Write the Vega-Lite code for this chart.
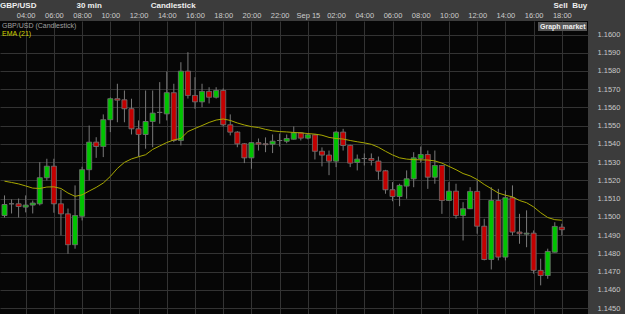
{
  "$schema": "https://vega.github.io/schema/vega-lite/v6.json",
  "width": 588,
  "height": 293,
  "autosize": {"type": "none"},
  "padding": {"left": 0, "top": 21, "right": 37, "bottom": 0},
  "background": "#3c3c3c",
  "title": {
    "text": "\u00a0GBP/USD\u00a0\u00a0\u00a0\u00a0\u00a0\u00a0\u00a0\u00a0\u00a0\u00a0\u00a0\u00a0\u00a0\u00a0\u00a0\u00a0\u00a0\u00a030 min\u00a0\u00a0\u00a0\u00a0\u00a0\u00a0\u00a0\u00a0\u00a0\u00a0\u00a0\u00a0\u00a0\u00a0\u00a0\u00a0\u00a0\u00a0\u00a0\u00a0\u00a0\u00a0Candlestick\u00a0\u00a0\u00a0\u00a0\u00a0\u00a0\u00a0\u00a0\u00a0\u00a0\u00a0\u00a0\u00a0\u00a0\u00a0\u00a0\u00a0\u00a0\u00a0\u00a0\u00a0\u00a0\u00a0\u00a0\u00a0\u00a0\u00a0\u00a0\u00a0\u00a0\u00a0\u00a0\u00a0\u00a0\u00a0\u00a0\u00a0\u00a0\u00a0\u00a0\u00a0\u00a0\u00a0\u00a0\u00a0\u00a0\u00a0\u00a0\u00a0\u00a0\u00a0\u00a0\u00a0\u00a0\u00a0\u00a0\u00a0\u00a0\u00a0\u00a0\u00a0\u00a0\u00a0\u00a0\u00a0\u00a0\u00a0\u00a0\u00a0\u00a0\u00a0\u00a0\u00a0\u00a0\u00a0\u00a0\u00a0\u00a0\u00a0\u00a0\u00a0\u00a0\u00a0\u00a0\u00a0\u00a0\u00a0\u00a0\u00a0\u00a0\u00a0\u00a0\u00a0\u00a0\u00a0\u00a0\u00a0\u00a0\u00a0\u00a0\u00a0\u00a0\u00a0\u00a0\u00a0\u00a0\u00a0\u00a0\u00a0\u00a0\u00a0\u00a0\u00a0\u00a0\u00a0\u00a0\u00a0\u00a0\u00a0\u00a0\u00a0\u00a0\u00a0\u00a0\u00a0\u00a0\u00a0\u00a0\u00a0\u00a0\u00a0\u00a0\u00a0\u00a0\u00a0\u00a0\u00a0\u00a0\u00a0\u00a0\u00a0\u00a0\u00a0\u00a0\u00a0\u00a0\u00a0\u00a0\u00a0\u00a0\u00a0\u00a0\u00a0\u00a0\u00a0\u00a0\u00a0\u00a0\u00a0\u00a0\u00a0Sell\u00a0\u00a0Buy",
    "anchor": "start",
    "font": "Liberation Sans",
    "fontSize": 8,
    "fontWeight": "bold",
    "color": "#eeeeee",
    "offset": 1
  },
  "config": {
    "view": {"fill": "#060606", "stroke": null},
    "axisY": {
      "ticks": false, "domain": false, "grid": true, "gridColor": "#333333",
      "tickCount": 16, "format": ".4f",
      "labelFont": "Liberation Sans", "labelFontSize": 7.5, "labelColor": "#c8c8c8",
      "labelPadding": 9, "labelOverlap": false
    }
  },
  "data": {
    "values": [
      {"t": "2022-09-14T02:30", "o": 1.15008, "h": 1.15118, "l": 1.14997, "c": 1.15068, "e": 1.15196},
      {"t": "2022-09-14T03:00", "o": 1.15072, "h": 1.15096, "l": 1.15019, "c": 1.15072, "e": 1.15189},
      {"t": "2022-09-14T03:30", "o": 1.15072, "h": 1.15101, "l": 1.14997, "c": 1.15057, "e": 1.15181},
      {"t": "2022-09-14T04:00", "o": 1.15054, "h": 1.15118, "l": 1.15025, "c": 1.15065, "e": 1.1517},
      {"t": "2022-09-14T04:30", "o": 1.15065, "h": 1.1509, "l": 1.15019, "c": 1.15076, "e": 1.15158},
      {"t": "2022-09-14T05:00", "o": 1.15072, "h": 1.153, "l": 1.15063, "c": 1.15215, "e": 1.15156},
      {"t": "2022-09-14T05:30", "o": 1.15215, "h": 1.15319, "l": 1.152, "c": 1.15278, "e": 1.15164},
      {"t": "2022-09-14T06:00", "o": 1.15278, "h": 1.15319, "l": 1.15023, "c": 1.15072, "e": 1.15165},
      {"t": "2022-09-14T06:30", "o": 1.15072, "h": 1.15149, "l": 1.14899, "c": 1.15017, "e": 1.15156},
      {"t": "2022-09-14T07:00", "o": 1.15017, "h": 1.15046, "l": 1.14798, "c": 1.14848, "e": 1.15131},
      {"t": "2022-09-14T07:30", "o": 1.14848, "h": 1.15173, "l": 1.14826, "c": 1.15008, "e": 1.15113},
      {"t": "2022-09-14T08:00", "o": 1.15004, "h": 1.15275, "l": 1.14981, "c": 1.15259, "e": 1.15121},
      {"t": "2022-09-14T08:30", "o": 1.15259, "h": 1.15501, "l": 1.152, "c": 1.1541, "e": 1.15142},
      {"t": "2022-09-14T09:00", "o": 1.1541, "h": 1.15437, "l": 1.15324, "c": 1.15386, "e": 1.15162},
      {"t": "2022-09-14T09:30", "o": 1.15386, "h": 1.15562, "l": 1.15328, "c": 1.15533, "e": 1.15186},
      {"t": "2022-09-14T10:00", "o": 1.15533, "h": 1.15655, "l": 1.15465, "c": 1.15648, "e": 1.15222},
      {"t": "2022-09-14T10:30", "o": 1.15648, "h": 1.1573, "l": 1.15519, "c": 1.1564, "e": 1.15266},
      {"t": "2022-09-14T11:00", "o": 1.15642, "h": 1.15693, "l": 1.15519, "c": 1.15593, "e": 1.15299},
      {"t": "2022-09-14T11:30", "o": 1.15593, "h": 1.15648, "l": 1.15452, "c": 1.15483, "e": 1.15318},
      {"t": "2022-09-14T12:00", "o": 1.15483, "h": 1.15529, "l": 1.15331, "c": 1.15452, "e": 1.1533},
      {"t": "2022-09-14T12:30", "o": 1.15452, "h": 1.15693, "l": 1.15374, "c": 1.15523, "e": 1.15341},
      {"t": "2022-09-14T13:00", "o": 1.15523, "h": 1.15693, "l": 1.15382, "c": 1.15569, "e": 1.1537},
      {"t": "2022-09-14T13:30", "o": 1.15573, "h": 1.15739, "l": 1.15511, "c": 1.15573, "e": 1.15389},
      {"t": "2022-09-14T14:00", "o": 1.15565, "h": 1.15797, "l": 1.15529, "c": 1.15681, "e": 1.15408},
      {"t": "2022-09-14T14:30", "o": 1.15681, "h": 1.1573, "l": 1.1541, "c": 1.15419, "e": 1.15422},
      {"t": "2022-09-14T15:00", "o": 1.15419, "h": 1.15848, "l": 1.15392, "c": 1.15799, "e": 1.1543},
      {"t": "2022-09-14T15:30", "o": 1.15799, "h": 1.15903, "l": 1.15649, "c": 1.15666, "e": 1.15468},
      {"t": "2022-09-14T16:00", "o": 1.15666, "h": 1.15766, "l": 1.15593, "c": 1.15631, "e": 1.15485},
      {"t": "2022-09-14T16:30", "o": 1.15631, "h": 1.1573, "l": 1.15602, "c": 1.15688, "e": 1.15501},
      {"t": "2022-09-14T17:00", "o": 1.15688, "h": 1.15711, "l": 1.15622, "c": 1.15656, "e": 1.15518},
      {"t": "2022-09-14T17:30", "o": 1.15656, "h": 1.15711, "l": 1.15649, "c": 1.15693, "e": 1.15531},
      {"t": "2022-09-14T18:00", "o": 1.15693, "h": 1.15704, "l": 1.15496, "c": 1.15505, "e": 1.15537},
      {"t": "2022-09-14T18:30", "o": 1.15505, "h": 1.15562, "l": 1.15447, "c": 1.15465, "e": 1.15529},
      {"t": "2022-09-14T19:00", "o": 1.15465, "h": 1.1547, "l": 1.15382, "c": 1.15401, "e": 1.15515},
      {"t": "2022-09-14T19:30", "o": 1.15401, "h": 1.15405, "l": 1.15295, "c": 1.15324, "e": 1.15504},
      {"t": "2022-09-14T20:00", "o": 1.15324, "h": 1.1541, "l": 1.15264, "c": 1.15407, "e": 1.15495},
      {"t": "2022-09-14T20:30", "o": 1.15407, "h": 1.1543, "l": 1.15364, "c": 1.15399, "e": 1.1549},
      {"t": "2022-09-14T21:00", "o": 1.15401, "h": 1.15436, "l": 1.15355, "c": 1.15396, "e": 1.1548},
      {"t": "2022-09-14T21:30", "o": 1.15399, "h": 1.15452, "l": 1.1535, "c": 1.15415, "e": 1.15472},
      {"t": "2022-09-14T22:00", "o": 1.15419, "h": 1.15457, "l": 1.15386, "c": 1.15419, "e": 1.15468},
      {"t": "2022-09-14T22:30", "o": 1.15415, "h": 1.15452, "l": 1.15404, "c": 1.1543, "e": 1.15466},
      {"t": "2022-09-14T23:00", "o": 1.15426, "h": 1.15496, "l": 1.15424, "c": 1.15461, "e": 1.15463},
      {"t": "2022-09-14T23:30", "o": 1.15461, "h": 1.15465, "l": 1.15419, "c": 1.15432, "e": 1.15461},
      {"t": "2022-09-15T00:00", "o": 1.15432, "h": 1.15457, "l": 1.15425, "c": 1.1545, "e": 1.15457},
      {"t": "2022-09-15T00:30", "o": 1.1545, "h": 1.15455, "l": 1.15315, "c": 1.1536, "e": 1.15454},
      {"t": "2022-09-15T01:00", "o": 1.1536, "h": 1.15381, "l": 1.15277, "c": 1.15339, "e": 1.15448},
      {"t": "2022-09-15T01:30", "o": 1.15339, "h": 1.15364, "l": 1.15229, "c": 1.15306, "e": 1.15436},
      {"t": "2022-09-15T02:00", "o": 1.15306, "h": 1.1547, "l": 1.15273, "c": 1.15465, "e": 1.1543},
      {"t": "2022-09-15T02:30", "o": 1.15465, "h": 1.15483, "l": 1.15364, "c": 1.15392, "e": 1.15427},
      {"t": "2022-09-15T03:00", "o": 1.15392, "h": 1.15396, "l": 1.15273, "c": 1.15295, "e": 1.15419},
      {"t": "2022-09-15T03:30", "o": 1.15299, "h": 1.15342, "l": 1.15255, "c": 1.15317, "e": 1.15412},
      {"t": "2022-09-15T04:00", "o": 1.1532, "h": 1.15348, "l": 1.15282, "c": 1.1532, "e": 1.15406},
      {"t": "2022-09-15T04:30", "o": 1.1532, "h": 1.15348, "l": 1.15282, "c": 1.1531, "e": 1.15398},
      {"t": "2022-09-15T05:00", "o": 1.15306, "h": 1.15331, "l": 1.15204, "c": 1.15251, "e": 1.15382},
      {"t": "2022-09-15T05:30", "o": 1.15253, "h": 1.15258, "l": 1.15127, "c": 1.15149, "e": 1.1536},
      {"t": "2022-09-15T06:00", "o": 1.15149, "h": 1.15191, "l": 1.15086, "c": 1.15112, "e": 1.1534},
      {"t": "2022-09-15T06:30", "o": 1.15112, "h": 1.15182, "l": 1.15059, "c": 1.15173, "e": 1.15324},
      {"t": "2022-09-15T07:00", "o": 1.15169, "h": 1.15255, "l": 1.151, "c": 1.15209, "e": 1.15317},
      {"t": "2022-09-15T07:30", "o": 1.15209, "h": 1.15355, "l": 1.15163, "c": 1.15324, "e": 1.15314},
      {"t": "2022-09-15T08:00", "o": 1.1532, "h": 1.15386, "l": 1.15299, "c": 1.15342, "e": 1.15313},
      {"t": "2022-09-15T08:30", "o": 1.15342, "h": 1.15364, "l": 1.15154, "c": 1.15218, "e": 1.15312},
      {"t": "2022-09-15T09:00", "o": 1.15218, "h": 1.15364, "l": 1.15182, "c": 1.15282, "e": 1.15307},
      {"t": "2022-09-15T09:30", "o": 1.15282, "h": 1.15285, "l": 1.15017, "c": 1.1509, "e": 1.15295},
      {"t": "2022-09-15T10:00", "o": 1.1509, "h": 1.15191, "l": 1.15087, "c": 1.15141, "e": 1.15277},
      {"t": "2022-09-15T10:30", "o": 1.15141, "h": 1.15182, "l": 1.1499, "c": 1.15008, "e": 1.15259},
      {"t": "2022-09-15T11:00", "o": 1.15008, "h": 1.15081, "l": 1.14871, "c": 1.15045, "e": 1.15238},
      {"t": "2022-09-15T11:30", "o": 1.15045, "h": 1.15163, "l": 1.15043, "c": 1.1514, "e": 1.15225},
      {"t": "2022-09-15T12:00", "o": 1.1514, "h": 1.152, "l": 1.14908, "c": 1.14949, "e": 1.15205},
      {"t": "2022-09-15T12:30", "o": 1.14949, "h": 1.1499, "l": 1.14762, "c": 1.14767, "e": 1.15178},
      {"t": "2022-09-15T13:00", "o": 1.14767, "h": 1.15163, "l": 1.14712, "c": 1.1509, "e": 1.15155},
      {"t": "2022-09-15T13:30", "o": 1.1509, "h": 1.15154, "l": 1.14762, "c": 1.1478, "e": 1.15131},
      {"t": "2022-09-15T14:00", "o": 1.1478, "h": 1.15145, "l": 1.14762, "c": 1.15105, "e": 1.15119},
      {"t": "2022-09-15T14:30", "o": 1.15105, "h": 1.15173, "l": 1.14899, "c": 1.14917, "e": 1.1511},
      {"t": "2022-09-15T15:00", "o": 1.14917, "h": 1.15017, "l": 1.14853, "c": 1.14908, "e": 1.1509},
      {"t": "2022-09-15T15:30", "o": 1.14906, "h": 1.15036, "l": 1.14834, "c": 1.14911, "e": 1.15078},
      {"t": "2022-09-15T16:00", "o": 1.14911, "h": 1.14926, "l": 1.14689, "c": 1.14707, "e": 1.15055},
      {"t": "2022-09-15T16:30", "o": 1.14707, "h": 1.14771, "l": 1.14625, "c": 1.14679, "e": 1.15023},
      {"t": "2022-09-15T17:00", "o": 1.14679, "h": 1.14826, "l": 1.14661, "c": 1.14811, "e": 1.14997},
      {"t": "2022-09-15T17:30", "o": 1.14807, "h": 1.14971, "l": 1.14805, "c": 1.14948, "e": 1.14985},
      {"t": "2022-09-15T18:00", "o": 1.14944, "h": 1.14963, "l": 1.14899, "c": 1.1493, "e": 1.14982}
    ]
  },
  "encoding": {
    "x": {
      "field": "t", "type": "temporal",
      "scale": {
        "domain": [
          {"year": 2022, "month": 9, "date": 14, "hours": 2, "minutes": 10, "seconds": 51},
          {"year": 2022, "month": 9, "date": 15, "hours": 19, "minutes": 51, "seconds": 14}
        ],
        "nice": false,
        "padding": 0
      },
      "axis": {
        "orient": "top", "title": null, "ticks": false, "domain": false,
        "grid": true, "gridColor": "#333333",
        "values": [
          {"year": 2022, "month": 9, "date": 14, "hours": 4},
          {"year": 2022, "month": 9, "date": 14, "hours": 6},
          {"year": 2022, "month": 9, "date": 14, "hours": 8},
          {"year": 2022, "month": 9, "date": 14, "hours": 10},
          {"year": 2022, "month": 9, "date": 14, "hours": 12},
          {"year": 2022, "month": 9, "date": 14, "hours": 14},
          {"year": 2022, "month": 9, "date": 14, "hours": 16},
          {"year": 2022, "month": 9, "date": 14, "hours": 18},
          {"year": 2022, "month": 9, "date": 14, "hours": 20},
          {"year": 2022, "month": 9, "date": 14, "hours": 22},
          {"year": 2022, "month": 9, "date": 15, "hours": 0},
          {"year": 2022, "month": 9, "date": 15, "hours": 2},
          {"year": 2022, "month": 9, "date": 15, "hours": 4},
          {"year": 2022, "month": 9, "date": 15, "hours": 6},
          {"year": 2022, "month": 9, "date": 15, "hours": 8},
          {"year": 2022, "month": 9, "date": 15, "hours": 10},
          {"year": 2022, "month": 9, "date": 15, "hours": 12},
          {"year": 2022, "month": 9, "date": 15, "hours": 14},
          {"year": 2022, "month": 9, "date": 15, "hours": 16},
          {"year": 2022, "month": 9, "date": 15, "hours": 18}
        ],
        "format": "%H:%M",
        "labelExpr": "datum.label == '00:00' ? 'Sep 15' : datum.label",
        "labelFont": "Liberation Sans", "labelFontSize": 7.5, "labelColor": "#cccccc",
        "labelPadding": 2
      }
    }
  },
  "layer": [
    {
      "mark": {"type": "rule", "strokeWidth": 1},
      "encoding": {
        "y": {
          "field": "l", "type": "quantitative",
          "scale": {"domain": [1.14468, 1.16074], "zero": false, "nice": false},
          "axis": {"orient": "right", "title": null}
        },
        "y2": {"field": "h"},
        "stroke": {
          "datum": "GBP/USD (Candlestick)",
          "scale": {"domain": ["GBP/USD (Candlestick)", "EMA (21)"], "range": ["#7a7a7a", "#a8a800"]},
          "legend": {
            "orient": "top-left", "offset": 1, "padding": 0, "title": null,
            "symbolSize": 0, "symbolOpacity": 0, "symbolStrokeWidth": 0,
            "labelOffset": -6, "rowPadding": 0,
            "labelFont": "Liberation Sans", "labelFontSize": 7,
            "labelColor": {"expr": "datum.value == 'EMA (21)' ? '#d2d200' : '#a0a0a0'"}
          }
        }
      }
    },
    {
      "mark": {"type": "bar", "size": 5, "stroke": "#6e6e6e", "strokeWidth": 1},
      "encoding": {
        "y": {"field": "o", "type": "quantitative", "axis": {"orient": "right", "title": null}},
        "y2": {"field": "c"},
        "fill": {
          "condition": {"test": "datum.c > datum.o", "value": "#00c400"},
          "value": "#c40000"
        },
        "strokeDash": {
          "datum": "Graph market",
          "scale": {"domain": ["Graph market"], "range": [[1, 0]]},
          "legend": {
            "orient": "top-right", "offset": 1, "padding": 1, "title": null,
            "fillColor": "#555555",
            "symbolSize": 0, "symbolOpacity": 0, "symbolStrokeWidth": 0,
            "labelOffset": -6, "rowPadding": 0,
            "labelFont": "Liberation Sans", "labelFontSize": 7, "labelFontWeight": "bold",
            "labelColor": "#f0f0f0"
          }
        }
      }
    },
    {
      "mark": {"type": "line", "strokeWidth": 1},
      "encoding": {
        "y": {"field": "e", "type": "quantitative", "axis": {"orient": "right", "title": null}},
        "stroke": {"datum": "EMA (21)"}
      }
    }
  ]
}
